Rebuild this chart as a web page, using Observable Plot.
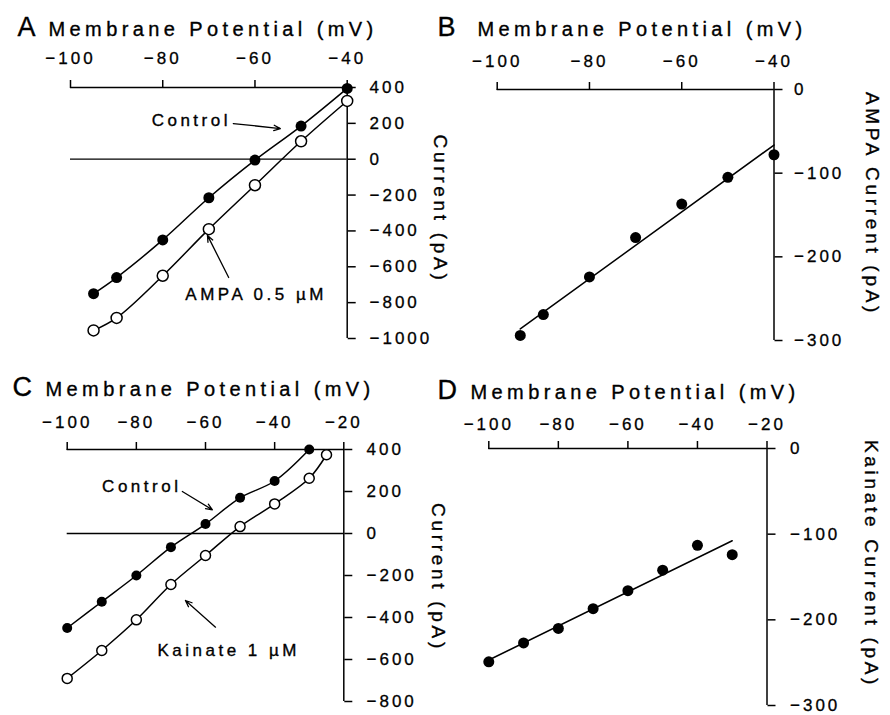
<!DOCTYPE html>
<html><head><meta charset="utf-8">
<script src="https://cdn.jsdelivr.net/npm/d3@7"></script>
<script src="https://cdn.jsdelivr.net/npm/@observablehq/plot@0.6"></script>
<style>
body{margin:0;background:#fff;}
#chart{position:relative;width:890px;height:715px;background:#fff;overflow:hidden}
#chart svg{position:absolute;overflow:visible}
</style></head><body><div id="chart"></div><script>
// ---- Panel A: Control vs AMPA 0.5 µM ----
const voltsA = [-95, -90, -80, -70, -60, -50, -40];
const controlA = [-750, -660, -450, -215, -5, 185, 395];
const ampaA = [-955, -885, -650, -390, -145, 100, 325];
// ---- Panel B: AMPA current ----
const voltsB = [-95, -90, -80, -70, -60, -50, -40];
const ampaCurrentB = [-294, -269, -224, -177, -137, -105, -78];
// ---- Panel C: Control vs Kainate 1 µM ----
const voltsCControl = [-100, -90, -80, -70, -60, -50, -40, -30];
const controlC = [-450, -325, -200, -65, 45, 170, 250, 400];
const voltsCKainate = [-100, -90, -80, -70, -60, -50, -40, -30, -25];
const kainateC = [-690, -557, -411, -243, -105, 33, 141, 263, 375];
// ---- Panel D: Kainate current ----
const voltsD = [-100, -90, -80, -70, -60, -50, -40, -30];
const kainateCurrentD = [-249, -227, -210, -187, -166, -142, -113, -124];
// ---- ticks ----
const xTicksAB = [-100, -80, -60, -40];
const xTicksCD = [-100, -80, -60, -40, -20];
const yTicksA = [400, 200, 0, -200, -400, -600, -800, -1000];
const yTicksC = [400, 200, 0, -200, -400, -600, -800];
const yTicksBD = [0, -100, -200, -300];
// ---- labels ----
const xTitle = "Membrane Potential (mV)";
const panelLetters = ["A", "B", "C", "D"];
const yTitles = ["Current (pA)", "AMPA Current (pA)", "Current (pA)", "Kainate Current (pA)"];
// ---- annotations (data units) ----
const labelsA = [{t: "Control", x: -82.4, y: 188}, {t: "AMPA 0.5 µM", x: -75.1, y: -788}];
const arrowsA = [{x1: -64.7, y1: 199, x2: -54.5, y2: 171}, {x1: -65.7, y1: -660, x2: -70.3, y2: -425}];
const labelsC = [{t: "Control", x: -89.9, y: 197}, {t: "Kainate 1 µM", x: -73.9, y: -581}];
const arrowsC = [{x1: -66.7, y1: 200, x2: -58, y2: 113}, {x1: -57.1, y1: -446, x2: -65.8, y2: -319}];

const FONT = '"Liberation Sans", Arial, Helvetica, sans-serif';
const fmt = d => (d < 0 ? "\u2212" : "") + Math.abs(d);
const INK = {stroke: "#000", strokeWidth: 0.35};

const tableA = voltsA.map((v, i) => ({v, control: controlA[i], ampa: ampaA[i]}));
const tableB = voltsB.map((v, i) => ({v, cur: ampaCurrentB[i]}));
const tableCc = voltsCControl.map((v, i) => ({v, cur: controlC[i]}));
const tableCk = voltsCKainate.map((v, i) => ({v, cur: kainateC[i]}));
const tableD = voltsD.map((v, i) => ({v, cur: kainateCurrentD[i]}));

function annotations(labels, arrows) {
  return [
    Plot.arrow(arrows, {x1: "x1", y1: "y1", x2: "x2", y2: "y2", stroke: "#000", strokeWidth: 1.3, headLength: 8, headAngle: 45}),
    Plot.text(labels, {x: "x", y: "y", text: "t", textAnchor: "start", lineAnchor: "bottom", fontSize: 17, fill: "#000", ...INK})
  ];
}

// letter spacing keyed by the font-size of the text group
const spacingBySize = {"17": "3.5px", "20": "4.4px", "19": "3.7px", "27": "0px"};

function panel(c) {
  const svg = Plot.plot({
    width: c.w, height: c.h,
    marginLeft: c.m[0], marginRight: c.m[1], marginTop: c.m[2], marginBottom: c.m[3],
    x: {domain: c.xDomain},
    y: {domain: c.yDomain},
    style: {fontFamily: FONT, fontSize: "17px", color: "#000", background: "transparent", overflow: "visible"},
    marks: [
      Plot.ruleY([c.yDomain[1]], {stroke: "#000", strokeWidth: 1.5}),
      Plot.ruleX([c.xDomain[1]], {stroke: "#000", strokeWidth: 1.5}),
      Plot.axisX({anchor: "top", ticks: c.xTicks, tickFormat: fmt, tickSize: 8, tickPadding: c.xPad, label: null, strokeWidth: 1.5, textStroke: "#000", textStrokeWidth: 0.3}),
      Plot.axisY({anchor: "right", ticks: c.yTicks, tickFormat: fmt, tickSize: 8, tickPadding: c.yPad, label: null, strokeWidth: 1.5, textStroke: "#000", textStrokeWidth: 0.3}),
      Plot.text([panelLetters[c.i]], {text: d => d, frameAnchor: "top-left", textAnchor: "start", lineAnchor: "bottom", dx: c.letterDx, dy: c.titleDy, fontSize: 27, fill: "#000", ...INK}),
      Plot.text([xTitle], {text: d => d, frameAnchor: "top-left", textAnchor: "start", lineAnchor: "bottom", dx: c.titleDx, dy: c.titleDy, fontSize: 20, fill: "#000", ...INK}),
      Plot.text([yTitles[c.i]], {text: d => d, frameAnchor: "right", textAnchor: "middle", lineAnchor: "middle", rotate: 90, dx: c.yTitleDx, dy: c.yTitleDy, fontSize: 19, fill: "#000", ...INK}),
      ...c.marks
    ]
  });
  const s = d3.select(svg);
  s.selectAll('g[aria-label$="tick label"] text').style("letter-spacing", "3px");
  for (const [size, ls] of Object.entries(spacingBySize)) {
    s.selectAll(`g[font-size="${size}"] text`).style("letter-spacing", ls);
  }
  svg.style.left = c.left + "px";
  svg.style.top = c.top + "px";
  document.getElementById("chart").append(svg);
}

// Panel A
panel({
  i: 0, left: 0, top: 0, w: 445, h: 350, m: [70, 98.3, 87, 12],
  xDomain: [-100, -40], yDomain: [-1000, 400], xTicks: xTicksAB, yTicks: yTicksA,
  xPad: 15.5, yPad: 14.3, letterDx: -53, titleDx: -22, titleDy: -52, yTitleDx: 92.5, yTitleDy: -4,
  marks: [
    Plot.ruleY([0], {stroke: "#000", strokeWidth: 1.3}),
    Plot.line(tableA, {x: "v", y: "control", curve: "catmull-rom", stroke: "#000", strokeWidth: 1.5}),
    Plot.line(tableA, {x: "v", y: "ampa", curve: "catmull-rom", stroke: "#000", strokeWidth: 1.5}),
    Plot.dot(tableA, {x: "v", y: "control", r: 5.5, fill: "#000"}),
    Plot.dot(tableA, {x: "v", y: "ampa", r: 5.5, fill: "#fff", stroke: "#000", strokeWidth: 1.5}),
    ...annotations(labelsA, arrowsA)
  ]
});

// Panel B
panel({
  i: 1, left: 445, top: 0, w: 445, h: 350, m: [51.7, 116.5, 89, 10],
  xDomain: [-100, -40], yDomain: [-300, 0], xTicks: xTicksAB, yTicks: yTicksBD,
  xPad: 14.5, yPad: 12, letterDx: -59.7, titleDx: -19.7, titleDy: -54, yTitleDx: 98.5, yTitleDy: -11,
  marks: [
    Plot.linearRegressionY(tableB, {x: "v", y: "cur", ci: 0, stroke: "#000", strokeWidth: 1.5}),
    Plot.dot(tableB, {x: "v", y: "cur", r: 5.5, fill: "#000"})
  ]
});

// Panel C
panel({
  i: 2, left: 0, top: 350, w: 445, h: 365, m: [66.7, 101.7, 99, 14],
  xDomain: [-100, -20], yDomain: [-800, 400], xTicks: xTicksCD, yTicks: yTicksC,
  xPad: 13.5, yPad: 14.7, letterDx: -54.7, titleDx: -21.7, titleDy: -54, yTitleDx: 94, yTitleDy: 2,
  marks: [
    Plot.ruleY([0], {stroke: "#000", strokeWidth: 1.3}),
    Plot.line(tableCc, {x: "v", y: "cur", curve: "catmull-rom", stroke: "#000", strokeWidth: 1.5}),
    Plot.line(tableCk, {x: "v", y: "cur", curve: "catmull-rom", stroke: "#000", strokeWidth: 1.5}),
    Plot.dot(tableCc, {x: "v", y: "cur", r: 5, fill: "#000"}),
    Plot.dot(tableCk, {x: "v", y: "cur", r: 5, fill: "#fff", stroke: "#000", strokeWidth: 1.5}),
    ...annotations(labelsC, arrowsC)
  ]
});

// Panel D
panel({
  i: 3, left: 445, top: 350, w: 445, h: 365, m: [43.3, 123.5, 98, 10],
  xDomain: [-100, -20], yDomain: [-300, 0], xTicks: xTicksCD, yTicks: yTicksBD,
  xPad: 10.5, yPad: 15, letterDx: -51.3, titleDx: -18.3, titleDy: -50, yTitleDx: 104.5, yTitleDy: -13,
  marks: [
    Plot.linearRegressionY(tableD, {x: "v", y: "cur", ci: 0, stroke: "#000", strokeWidth: 1.5}),
    Plot.dot(tableD, {x: "v", y: "cur", r: 5.5, fill: "#000"})
  ]
});
</script></body></html>
